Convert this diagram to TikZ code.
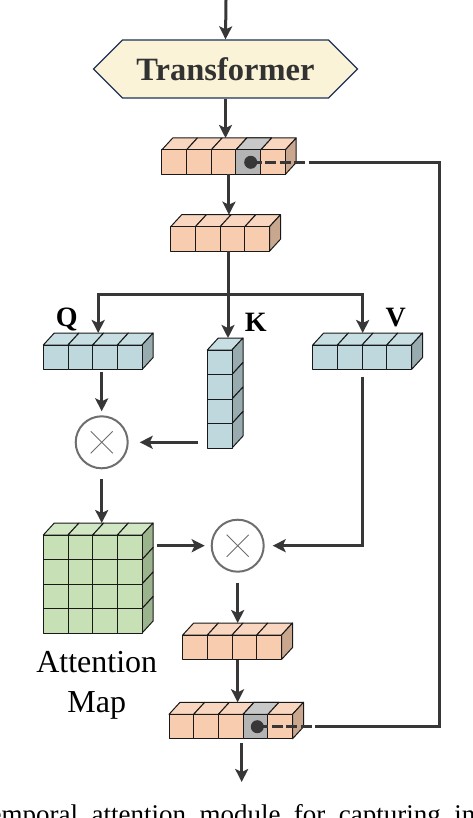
\documentclass[tikz,border=0pt]{standalone}
\usepackage{fontspec}
\setmainfont{Liberation Serif}
\usepackage{tikz}
\usetikzlibrary{arrows.meta,positioning,shapes.symbols,calc}
\definecolor{peachfront}{RGB}{247,204,175}
\definecolor{peachtop}{RGB}{249,214,191}
\definecolor{peachside}{RGB}{201,167,143}
\definecolor{bluefront}{RGB}{190,216,222}
\definecolor{bluetop}{RGB}{199,222,227}
\definecolor{blueside}{RGB}{152,172,176}
\definecolor{greenfront}{RGB}{199,224,182}
\definecolor{greentop}{RGB}{209,230,194}
\definecolor{greenside}{RGB}{156,180,141}
\definecolor{grayfront}{RGB}{180,180,180}
\definecolor{graytop}{RGB}{200,200,200}
\definecolor{hexfill}{RGB}{250,243,216}
\definecolor{hexline}{RGB}{30,50,85}
\definecolor{arrowgray}{RGB}{55,55,55}
\definecolor{ringgray}{RGB}{110,110,110}
\definecolor{textgray}{RGB}{50,50,50}

\def\cubew{24.7}
\def\cubeh{24.5}
\def\cubedx{11}
\def\cubedy{12}

% block of cubes: x, y (front top left), columns, rows, colour, name
\newcommand{\cubeblock}[6]{%
  \foreach \i in {1,...,#3}{
    \filldraw[cubeedge, fill=#5top] ({#1+(\i-1)*\cubew},#2) -- ++(\cubedx,-\cubedy) -- ++(\cubew,0) -- ++(-\cubedx,\cubedy) -- cycle;
  }
  \foreach \j in {1,...,#4}{
    \filldraw[cubeedge, fill=#5side] ({#1+#3*\cubew},{#2+(\j-1)*\cubeh}) -- ++(\cubedx,-\cubedy) -- ++(0,\cubeh) -- ++(-\cubedx,\cubedy) -- cycle;
  }
  \foreach \i in {1,...,#3}{
    \foreach \j in {1,...,#4}{
      \filldraw[cubeedge, fill=#5front] ({#1+(\i-1)*\cubew},{#2+(\j-1)*\cubeh}) rectangle ++(\cubew,\cubeh);
    }
  }
  \node[blk, anchor=south west, minimum width={#3*\cubew+\cubedx}, minimum height={#4*\cubeh+\cubedy}] (#6) at (#1,{#2+#4*\cubeh}) {};
}
% grey slot in a row
\newcommand{\grayslot}[2]{%
  \filldraw[cubeedge, fill=graytop] ({#1},#2) -- ++(\cubedx,-\cubedy) -- ++(\cubew,0) -- ++(-\cubedx,\cubedy) -- cycle;
  \filldraw[cubeedge, fill=grayfront] ({#1},#2) rectangle ++(\cubew,\cubeh);
}

\begin{document}
\begin{tikzpicture}[x=1pt, y=-1pt,
  arr/.style={draw=arrowgray, line width=3pt, -{Stealth[length=13pt,width=13pt,inset=3pt]}},
  wire/.style={draw=arrowgray, line width=3pt},
  loopdash/.style={draw=arrowgray, line width=3pt, dash pattern=on 11pt off 3.5pt},
  cubeedge/.style={draw=black!90, line width=1pt, line join=round},
  blk/.style={inner sep=0pt, outer sep=0pt},
  dot/.style={circle, fill=arrowgray, inner sep=0pt, minimum size=13pt},
  hexa/.style={signal, signal to=west and east, signal pointer angle=90,
    draw=hexline, fill=hexfill, line width=1.3pt, minimum width=264pt,
    minimum height=58pt, inner sep=0pt, text=textgray,
    font=\fontsize{32.5}{38}\selectfont\bfseries},
  mul/.style={circle, draw=ringgray, line width=2pt, minimum size=52pt, inner sep=0pt,
    path picture={\draw[ringgray, line width=0.9pt]
      ([shift={(-11pt,-11pt)}]path picture bounding box.center) -- ([shift={(11pt,11pt)}]path picture bounding box.center)
      ([shift={(-11pt,11pt)}]path picture bounding box.center) -- ([shift={(11pt,-11pt)}]path picture bounding box.center);}},
  lbl/.style={inner sep=0pt, font=\fontsize{28}{32}\selectfont\bfseries}]

  \path[use as bounding box] (0,0) rectangle (472,818);
  \clip (0,0) rectangle (472,818);

  % Transformer
  \coordinate (top) at (226,0);
  \node[hexa] (trans) at (225.5,69) {Transformer};

  % token rows
  \cubeblock{161.7}{150}{5}{1}{peach}{tokA}
  \grayslot{161.7+3*\cubew}{150}
  \cubeblock{170.7}{226.7}{4}{1}{peach}{tokB}

  % Q K V
  \cubeblock{43.3}{345}{4}{1}{blue}{q}
  \cubeblock{207.3}{350}{1}{4}{blue}{k}
  \cubeblock{312.7}{345}{4}{1}{blue}{v}
  \node[lbl, anchor=base] (qlbl) at (66.7,326.7) {Q};
  \node[lbl, anchor=base] (klbl) at (255.8,331.7) {K};
  \node[lbl, anchor=base] (vlbl) at (395.8,326.7) {V};

  % products
  \node[mul] (mul1) at (101.7,442.3) {};
  \node[mul] (mul2) at (237.7,545.7) {};

  % attention map
  \cubeblock{43.3}{535}{4}{4}{green}{attn}
  \node[inner sep=0pt, anchor=north, align=center, font=\fontsize{32}{40}\selectfont] (amap) at (96.7,651) {Attention\\Map};

  % output rows
  \cubeblock{182.7}{635}{4}{1}{peach}{tokC}
  \cubeblock{169}{714.3}{5}{1}{peach}{tokD}
  \grayslot{169+3*\cubew}{714.3}

  % main flow
  \draw[arr] (top) -- (trans.north);
  \draw[arr] (trans.south) -- (trans.south |- tokA.north);
  \draw[arr] (tokA.south) -- (tokA.south |- tokB.north);
  \coordinate (split) at (228,294);
  \coordinate (vin) at (362.7,294);
  \draw[wire] (split |- tokB.south) -- (split);
  \draw[arr] (split) -| (q.north);
  \draw[arr] (split) -- (split |- k.north);
  \draw[arr] (split) -| (vin |- v.north);
  \draw[arr, shorten <=2pt, shorten >=4pt] (mul1 |- q.south) -- (mul1.north);
  \draw[arr, shorten <=9pt, shorten >=11pt] (k.west |- mul1) -- (mul1.east);
  \draw[arr, shorten <=10pt] (mul1.south) -- (mul1.south |- attn.north);
  \draw[arr, shorten <=4pt, shorten >=6pt] (attn.east |- mul2) -- (mul2.west);
  \draw[arr, shorten <=7pt, shorten >=8pt] (vin |- v.south) -- (vin |- mul2) -- (mul2.east);
  \draw[arr, shorten <=10pt] (mul2.south) -- (mul2.south |- tokC.north);
  \draw[arr] (tokC.south) -- (tokC.south |- tokD.north);
  \coordinate (out) at (241.7,782);
  \draw[arr, shorten <=4pt] (out |- tokD.south) -- (out);

  % skip connection
  \node[dot] (dotA) at (250.7,162.3) {};
  \node[dot] (dotB) at (257.3,726.7) {};
  \coordinate (jA) at (315,162.3);
  \coordinate (jB) at (320,726.7);
  \coordinate (rx) at (439,0);
  \draw[loopdash] (dotA.center) -- (jA);
  \draw[loopdash] (dotB.center) -- (jB);
  \draw[wire] (jA) -- (jA -| rx) -- (jB -| rx) -- (jB);

  % caption (cut by the page)
  \node[anchor=base west, inner sep=0pt, font=\fontsize{27}{30}\selectfont] (cap) at (-18,823)
    {\makebox[493pt][s]{temporal attention module for capturing in}};
\end{tikzpicture}
\end{document}
